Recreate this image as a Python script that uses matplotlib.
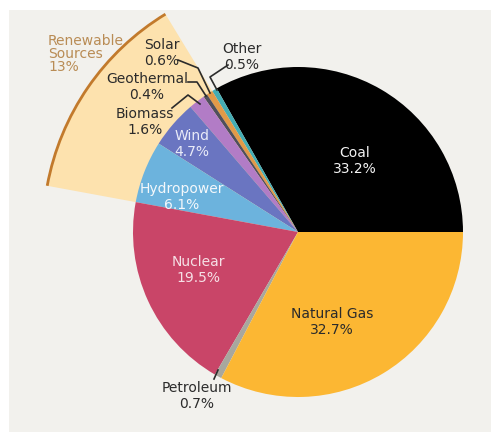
import numpy as np
import matplotlib
matplotlib.use("Agg")
import matplotlib.pyplot as plt
from matplotlib.patches import Wedge, Arc, Rectangle

# slices, counterclockwise from 3 o'clock
labels = ["Coal", "Other", "Solar", "Geothermal", "Biomass", "Wind",
          "Hydropower", "Nuclear", "Petroleum", "Natural Gas"]
shares = [33.2, 0.5, 0.6, 0.4, 1.6, 4.7, 6.1, 19.5, 0.7, 32.7]
colors = ["#000000", "#45adb4", "#e39a48", "#4f4f5c", "#b27cc6", "#6a75c1",
          "#6cb3dd", "#c94568", "#a8a79e", "#fcb733"]
renewable = ["Solar", "Geothermal", "Biomass", "Wind", "Hydropower"]
renewable_label = "Renewable\nSources\n13%"

W, H = 491, 432
fig = plt.figure(figsize=(W / 100, H / 100), dpi=100)
fig.patch.set_facecolor("white")
ax = fig.add_axes([0, 0, 1, 1])
ax.set_xlim(0, W)
ax.set_ylim(0, H)
ax.axis("off")

def px(x, y):
    # image pixel coords -> data coords
    return x, H - y

ax.add_patch(Rectangle(px(9, 432), W - 9, 422, facecolor="#f2f1ed",
                       edgecolor="none", zorder=0))

cx, cy = px(298, 232)
R = 165

# renewable highlight wedge
cum = np.concatenate([[0], np.cumsum(shares)]) * 3.6
i0 = labels.index(renewable[0])
i1 = labels.index(renewable[-1])
t1, t2 = cum[i0], cum[i1 + 1]
R2 = 255
ax.add_patch(Wedge((cx, cy), R2, t1, t2, facecolor="#fde2ae",
                   edgecolor="none", zorder=1))
ax.add_patch(Arc((cx, cy), 2 * R2, 2 * R2, theta1=t1, theta2=t2,
                 color="#c27a2c", lw=2, zorder=2))

wedges, _ = ax.pie(shares, colors=colors, startangle=0, counterclock=True,
                   center=(cx, cy), radius=R, frame=True,
                   wedgeprops=dict(linewidth=0, zorder=3))
for w in wedges:
    w.set_zorder(3)
ax.set_xlim(0, W)
ax.set_ylim(0, H)
ax.set_aspect("equal")
ax.axis("off")

fs = 10
def lab(text, x, y, color="#2b2b2b", ha="center"):
    ax.text(*px(x, y), text, ha=ha, va="center", fontsize=fs, color=color,
            linespacing=1.1, zorder=6)

def pct(name):
    return f"{name}\n{shares[labels.index(name)]}%"

lab(pct("Coal"), 355, 161, "#f4f4f4")
lab(pct("Natural Gas"), 332, 322)
lab(pct("Nuclear"), 198, 270, "#f6e0e6")
lab(pct("Hydropower"), 182, 197, "#f4f8fb")
lab(pct("Wind"), 192, 144, "#e9ebf8")
lab(pct("Biomass"), 145, 122)
lab(pct("Geothermal"), 147, 87)
lab(pct("Solar"), 162, 53)
lab(pct("Other"), 242, 57)
lab(pct("Petroleum"), 197, 396)
ax.text(*px(48, 54), renewable_label, ha="left", va="center", fontsize=fs,
        color="#b98c55", linespacing=0.95, zorder=6)

# leader lines
leaders = [
    [(178, 60), (198, 68), (210, 93)],
    [(188, 82), (197, 82), (206, 96)],
    [(172, 108), (188, 95), (200, 104)],
    [(228, 65), (210, 77), (217, 90)],
    [(218, 370), (214, 379)],
]
for pts in leaders:
    xs, ys = zip(*[px(x, y) for x, y in pts])
    ax.plot(xs, ys, color="#2b2b2b", lw=1.2, zorder=7)

fig.savefig("out.png", dpi=100)
